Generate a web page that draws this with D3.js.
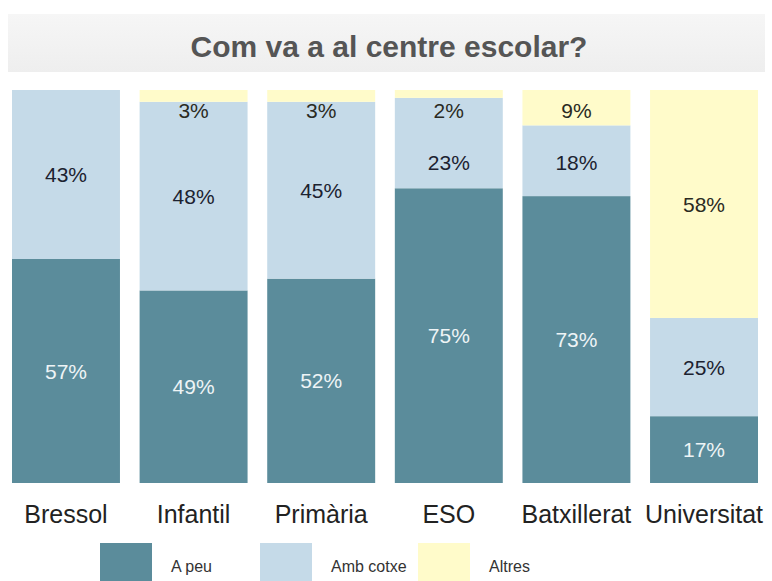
<!DOCTYPE html>
<html>
<head>
<meta charset="utf-8">
<script src="https://cdn.jsdelivr.net/npm/d3@7"></script>
<style>
  html, body { margin: 0; padding: 0; background: #fff; }
  svg { display: block; font-family: "Liberation Sans", Arial, sans-serif; }
</style>
</head>
<body>
<svg id="chart" width="772" height="581"></svg>
<script>
const title = "Com va a al centre escolar?";
const categories = ["Bressol", "Infantil", "Primària", "ESO", "Batxillerat", "Universitat"];
const seriesNames = ["A peu", "Amb cotxe", "Altres"];
const aPeu = [57, 49, 52, 75, 73, 17];
const ambCotxe = [43, 48, 45, 23, 18, 25];
const altres = [0, 3, 3, 2, 9, 58];
const colors = ["#5b8c9b", "#c5dae8", "#fffbca"];
const labelColors = ["#eef4f6", "#1c2230", "#2a2a22"];

const svg = d3.select("#chart");

// title band
const defs = svg.append("defs");
const grad = defs.append("linearGradient").attr("id", "tg").attr("x1", 0).attr("y1", 0).attr("x2", 0).attr("y2", 1);
grad.append("stop").attr("offset", "0%").attr("stop-color", "#f6f6f6");
grad.append("stop").attr("offset", "100%").attr("stop-color", "#eeeeee");
svg.append("rect").attr("x", 8).attr("y", 14).attr("width", 757).attr("height", 58).attr("fill", "url(#tg)");
svg.append("text").attr("x", 389).attr("y", 57).attr("text-anchor", "middle")
  .attr("font-size", 30).attr("font-weight", "bold").attr("fill", "#555")
  .text(title);

const table = categories.map((c, i) => ({ cat: c, "A peu": aPeu[i], "Amb cotxe": ambCotxe[i], "Altres": altres[i] }));
const stack = d3.stack().keys(seriesNames)(table);

const x = d3.scaleBand().domain(categories).range([12, 758]).paddingInner(0.154).paddingOuter(0);
const y = d3.scaleLinear().domain([0, 100]).range([483, 90]);

const g = svg.append("g");
stack.forEach((layer, si) => {
  g.selectAll(null).data(layer).enter().append("rect")
    .attr("x", d => x(d.data.cat))
    .attr("width", x.bandwidth())
    .attr("y", d => y(d[1]))
    .attr("height", d => Math.max(0, y(d[0]) - y(d[1])))
    .attr("fill", colors[si]);
});

// labels, placed top-down with minimum spacing
categories.forEach((c, ci) => {
  let prev = -Infinity;
  const top = y(100);
  for (let si = seriesNames.length - 1; si >= 0; si--) {
    const d = stack[si][ci];
    const v = d[1] - d[0];
    if (v <= 0) continue;
    let cy = (y(d[0]) + y(d[1])) / 2;
    cy = Math.max(cy, top + 20, prev + 52);
    prev = cy;
    svg.append("text")
      .attr("x", x(c) + x.bandwidth() / 2)
      .attr("y", cy)
      .attr("dy", "0.36em")
      .attr("text-anchor", "middle")
      .attr("font-size", 21)
      .attr("fill", labelColors[si])
      .text(v + "%");
  }
});

// category axis
const xAxis = svg.append("g").attr("transform", "translate(0,483)")
  .call(d3.axisBottom(x).tickSize(0).tickPadding(0));
xAxis.select(".domain").remove();
xAxis.selectAll("text").attr("font-size", 25).attr("fill", "#222")
  .attr("font-family", "'Liberation Sans', Arial, sans-serif")
  .attr("dy", null).attr("y", 40);

// legend
const legendX = [100, 260, 418];
const lg = svg.append("g");
seriesNames.forEach((s, i) => {
  lg.append("rect").attr("x", legendX[i]).attr("y", 543).attr("width", 52).attr("height", 40).attr("fill", colors[i]);
  lg.append("text").attr("x", legendX[i] + 71).attr("y", 572).attr("font-size", 16).attr("fill", "#333").text(s);
});
</script>
</body>
</html>
